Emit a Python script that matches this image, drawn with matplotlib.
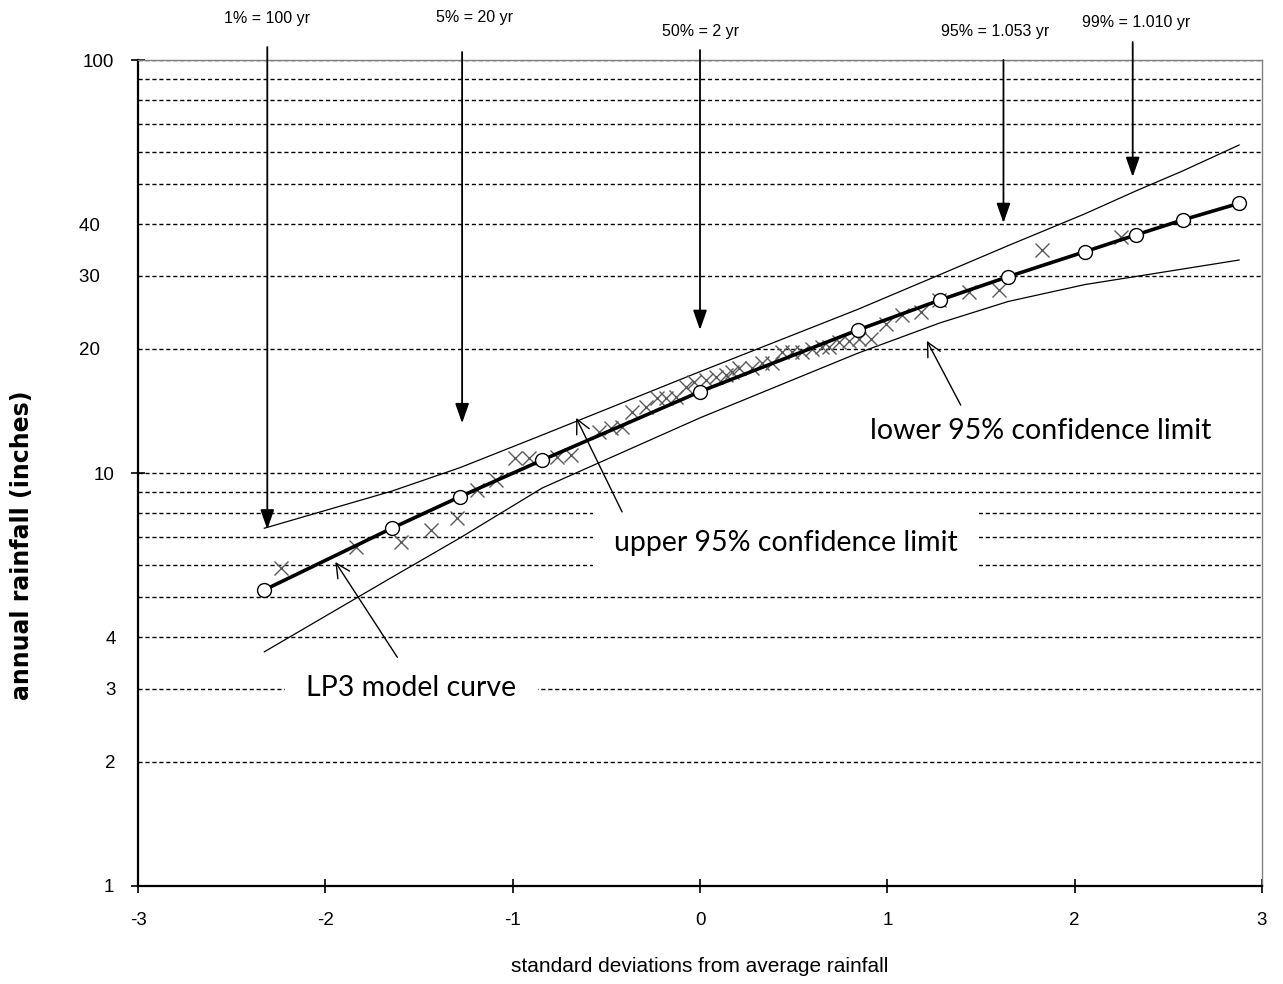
import matplotlib
matplotlib.use("Agg")
import matplotlib.pyplot as plt
from matplotlib.ticker import FixedLocator, FixedFormatter

# LP3 model curve, evaluated at standard normal quantiles
model_z = [-2.326, -1.645, -1.282, -0.842, 0.0, 0.842, 1.282, 1.645, 2.054, 2.326, 2.576, 2.878]
model_rain = [5.21, 7.35, 8.76, 10.75, 15.74, 22.19, 26.24, 29.88, 34.34, 37.70, 40.99, 44.98]
upper_rain = [7.35, 9.04, 10.3, 12.36, 17.6, 24.9, 30.24, 35.53, 42.41, 48.17, 53.86, 62.26]
lower_rain = [3.69, 5.59, 6.96, 9.2, 13.6, 19.5, 23.1, 26.02, 28.59, 29.91, 31.18, 32.79]

# observed annual rainfall (plotting positions)
obs_z = [-2.235, -1.835, -1.595, -1.435, -1.296, -1.189, -1.088, -0.987, -0.912, -0.763,
         -0.688, -0.539, -0.475, -0.416, -0.363, -0.288, -0.229, -0.181, -0.128, -0.075,
         -0.032, 0.032, 0.085, 0.139, 0.171, 0.208, 0.277, 0.331, 0.384, 0.437,
         0.491, 0.544, 0.597, 0.651, 0.688, 0.741, 0.795, 0.848, 0.912, 0.992,
         1.077, 1.179, 1.275, 1.435, 1.595, 1.824, 2.245]
obs_rain = [5.89, 6.62, 6.81, 7.28, 7.78, 9.10, 9.62, 10.86, 10.86, 10.94,
            11.06, 12.56, 12.85, 12.9, 14.06, 14.45, 15.2, 15.2, 15.3, 16.16,
            16.61, 16.80, 17.08, 17.28, 17.58, 17.96, 17.96, 18.46, 18.46, 19.63,
            19.63, 19.63, 19.95, 20.18, 20.18, 20.75, 20.87, 21.11, 21.11, 22.94,
            24.15, 24.55, 26.24, 27.42, 27.74, 34.67, 37.26]

# return period call-outs at the top
rp_labels = ["1% = 100 yr", "5% = 20 yr", "50% = 2 yr", "95% = 1.053 yr", "99% = 1.010 yr"]
rp_arrow_x = [-2.31, -1.27, 0.0, 1.62, 2.31]
rp_arrow_tip = [7.3, 13.2, 22.2, 40.3, 52.1]
rp_text_x = [-2.31, -1.205, 0.0, 1.573, 2.33]

y_major = [1, 10, 100]
y_minor = [2, 3, 4, 5, 6, 7, 8, 9, 20, 30, 40, 50, 60, 70, 80, 90]
y_minor_labels = ["2", "3", "4", "", "", "", "", "", "20   ", "30   ", "40   ", "", "", "", "", ""]
x_ticks = [-3, -2, -1, 0, 1, 2, 3]

sans = ["Liberation Sans", "DejaVu Sans"]
calib = ["Lato", "Open Sans", "DejaVu Sans"]

fig = plt.figure(figsize=(12.83, 9.84), dpi=100)
ax = fig.add_axes([0.1076, 0.0996, 0.876, 0.8394])

ax.set_yscale("log")
ax.set_xlim(-3, 3)
ax.set_ylim(1, 100)

# grid
ax.yaxis.set_major_locator(FixedLocator(y_major))
ax.yaxis.set_major_formatter(FixedFormatter([str(v) for v in y_major]))
ax.yaxis.set_minor_locator(FixedLocator(y_minor))
ax.yaxis.set_minor_formatter(FixedFormatter(y_minor_labels))
ax.yaxis.grid(True, which="both", linestyle=(0, (3, 2)), color="black", lw=1.0, zorder=0)
ax.set_xticks(x_ticks)
ax.set_xticklabels([str(v) for v in x_ticks])

ax.tick_params(axis="x", which="major", direction="inout", length=10, width=1.2, pad=14,
               labelsize=13.5)
ax.tick_params(axis="y", which="major", direction="inout", length=10, width=1.2, pad=12,
               labelsize=13.5)
ax.tick_params(axis="y", which="minor", length=0, pad=16, labelsize=13.5)
for lab in ax.get_xticklabels() + ax.get_yticklabels() + ax.get_yticklabels(minor=True):
    lab.set_family(sans)

for s in ["left", "bottom"]:
    ax.spines[s].set_linewidth(1.6)
    ax.spines[s].set_color("black")
for s in ["top", "right"]:
    ax.spines[s].set_linewidth(1.0)
    ax.spines[s].set_color("#808080")
ax.set_axisbelow(True)

# confidence limits
ax.plot(model_z, upper_rain, color="black", lw=0.9, zorder=3)
ax.plot(model_z, lower_rain, color="black", lw=0.9, zorder=3)

# observations
ax.plot(obs_z, obs_rain, linestyle="none", marker="x", markersize=10, mew=1.0,
        color="#5a5a5a", zorder=4)

# model curve
ax.plot(model_z, model_rain, color="black", lw=2.6, marker="o", markersize=10,
        markerfacecolor="white", markeredgecolor="black", mew=1.0, zorder=5)

# return period arrows
arrow_top = [1.0157, 1.0097, 1.0121, 1.0, 1.0218]
text_y = [1.0508, 1.052, 1.035, 1.035, 1.046]
for lab, axx, tip, tx, top, ty in zip(rp_labels, rp_arrow_x, rp_arrow_tip, rp_text_x,
                                      arrow_top, text_y):
    ax.annotate("", xy=(axx, tip), xycoords="data",
                xytext=(axx, top), textcoords=("data", "axes fraction"),
                arrowprops=dict(arrowstyle="-|>,head_length=1.0,head_width=0.35",
                                mutation_scale=12, color="black", lw=1.3,
                                shrinkA=0, shrinkB=0),
                annotation_clip=False, zorder=6)
    ax.text(tx, ty, lab, transform=ax.get_xaxis_transform(), ha="center", va="center",
            fontsize=11.5, family=sans, clip_on=False)

# labelled pointers
notes = ["lower 95% confidence limit", "upper 95% confidence limit", "LP3 model curve"]
note_pos = [(1.819, 12.64), (0.459, 6.77), (-1.541, 3.02)]
note_tail = [(1.392, 14.6), (-0.416, 8.05), (-1.616, 3.58)]
note_head = [(1.211, 20.9), (-0.661, 13.6), (-1.947, 6.09)]
for txt, pos, tail, head in zip(notes, note_pos, note_tail, note_head):
    ax.text(pos[0], pos[1], txt, ha="center", va="center", fontsize=20.5, family=calib,
            zorder=7, bbox=dict(boxstyle="square,pad=0.75", facecolor="white",
                                edgecolor="none"))
    ax.annotate("", xy=head, xytext=tail,
                arrowprops=dict(arrowstyle="->,head_length=0.5,head_width=0.25",
                                mutation_scale=20, color="black", lw=1.0,
                                shrinkA=0, shrinkB=0), zorder=8)

ax.set_xlabel("standard deviations from average rainfall", fontsize=15, family=sans,
              labelpad=20)
ax.set_ylabel("annual rainfall (inches)", fontsize=17, fontweight="bold",
              family=["DejaVu Sans"])
ax.yaxis.set_label_coords(-0.0925, 0.413)

fig.savefig("out.png", dpi=100)
